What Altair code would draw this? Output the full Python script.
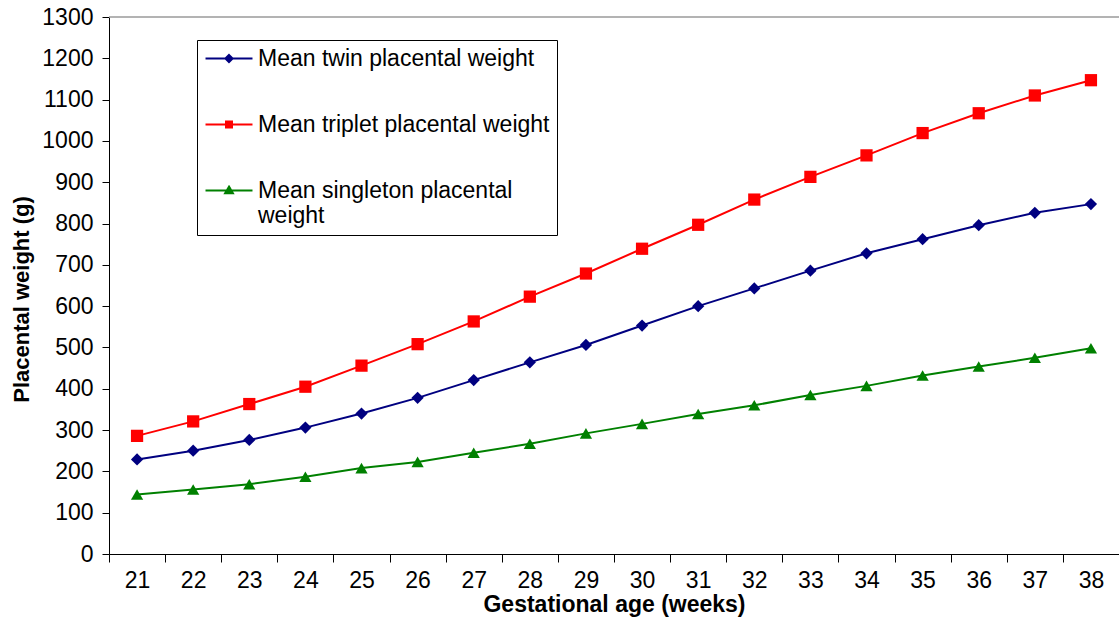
import altair as alt
import pandas as pd

# Gestational age in weeks (category axis)
weeks = list(range(21, 39))

# Mean placental weight (g) per gestational week
twin = [229, 250, 276, 306, 340, 378, 421, 464, 506, 553, 600, 643, 686, 728, 762, 796, 826, 847]
triplet = [286, 321, 363, 405, 456, 508, 563, 623, 679, 739, 797, 858, 913, 965, 1019, 1067, 1110, 1147]
singleton = [144, 156, 169, 187, 208, 223, 245, 267, 292, 315, 339, 360, 385, 407, 432, 454, 475, 498]

series_names = [
    "Mean twin placental weight",
    "Mean triplet placental weight",
    "Mean singleton placental weight",
]
series_colors = ["#000080", "#FF0000", "#008000"]
marker_shapes = ["diamond", "square", "triangle-up"]

# Legend keys: a short line with the series marker on it (1 unit = 3 px)
legend_keys = [
    "M-3.33,0L12.33,0M4.5,-1.2L5.7,0L4.5,1.2L3.3,0Z",
    "M-3.33,0L12.33,0M3.5,-1L5.5,-1L5.5,1L3.5,1Z",
    "M-3.33,0L12.33,0M4.5,-1.3L5.8,0.9L3.2,0.9Z",
]

y_ticks = list(range(0, 1301, 100))

rows = []
for name, vals in zip(series_names, [twin, triplet, singleton]):
    for w, v in zip(weeks, vals):
        rows.append({"week": w, "series": name, "weight": v})
df = pd.DataFrame(rows)

FONT = "Liberation Sans"
W, H = 1010, 537

x_enc = alt.X(
    "week:O",
    bandPosition=0.5,
    scale=alt.Scale(type="band", paddingInner=0, paddingOuter=0),
    axis=alt.Axis(
        title="Gestational age (weeks)",
        labelAngle=0,
        tickBand="extent",
        tickSize=8,
        labelPadding=7,
        titlePadding=1,
        titleFontSize=23,
    ),
)
y_enc = alt.Y(
    "weight:Q",
    scale=alt.Scale(domain=[0, 1300], nice=False),
    axis=alt.Axis(
        title="Placental weight (g)",
        values=y_ticks,
        format="d",
        tickSize=7,
        labelPadding=9,
        titlePadding=8,
        titleY=282,
    ),
)

lines = alt.Chart(df).mark_line(strokeWidth=2).encode(
    x=x_enc,
    y=y_enc,
    color=alt.Color(
        "series:N",
        scale=alt.Scale(domain=series_names, range=series_colors),
        legend=None,
    ),
)

# One marker layer per series
marker_layers = [
    alt.Chart(df)
    .transform_filter(alt.datum.series == name)
    .mark_point(filled=True, size=150, opacity=1, shape=shape, color=color)
    .encode(x=x_enc, y=y_enc)
    for name, shape, color in zip(series_names, marker_shapes, series_colors)
]

legend_def = alt.Legend(
    title=None,
    orient="none",
    legendX=88,
    legendY=23,
    padding=7,
    rowPadding=42,
    symbolSize=36,
    symbolStrokeWidth=2,
    labelOffset=31,
    labelBaseline="middle",
    labelFont=FONT,
    labelFontSize=23,
    labelColor="black",
    labelLimit=500,
    strokeColor="black",
    fillColor="white",
    labelExpr="datum.label == 'Mean singleton placental weight' ? ['Mean singleton placental', 'weight'] : datum.label",
)

# Legend-only layer: the filter leaves it without marks, the scales keep the entries
legend_layer = (
    alt.Chart(df)
    .transform_filter("datum.weight < 0")
    .mark_point(filled=True, strokeWidth=2, opacity=1)
    .encode(
        x=x_enc,
        y=y_enc,
        fill=alt.Fill("series:N", scale=alt.Scale(domain=series_names, range=series_colors), legend=legend_def),
        stroke=alt.Stroke("series:N", scale=alt.Scale(domain=series_names, range=series_colors), legend=legend_def),
        shape=alt.Shape("series:N", scale=alt.Scale(domain=series_names, range=legend_keys), legend=legend_def),
    )
)

top_border = (
    alt.Chart(pd.DataFrame({"k": [0]}))
    .mark_rule(color="#9a9a9a", strokeWidth=1.5)
    .encode(x=alt.value(0), x2=alt.value(W), y=alt.value(0))
)

chart = (
    alt.layer(top_border, lines, *marker_layers, legend_layer)
    .resolve_scale(fill="independent", stroke="independent", shape="independent")
    .properties(
        width=W,
        height=H,
        autosize=alt.AutoSizeParams(type="none"),
        padding={"left": 109, "top": 17, "right": 0, "bottom": 90},
    )
    .configure_view(stroke=None)
    .configure_axis(
        grid=False,
        domainColor="black",
        tickColor="black",
        domainWidth=1,
        tickWidth=1,
        labelFont=FONT,
        labelFontSize=23,
        labelColor="black",
        titleFont=FONT,
        titleFontSize=22,
        titleFontWeight="bold",
        titleColor="black",
    )
)

chart.save("out.html", embed_options={"renderer": "svg", "actions": False})
